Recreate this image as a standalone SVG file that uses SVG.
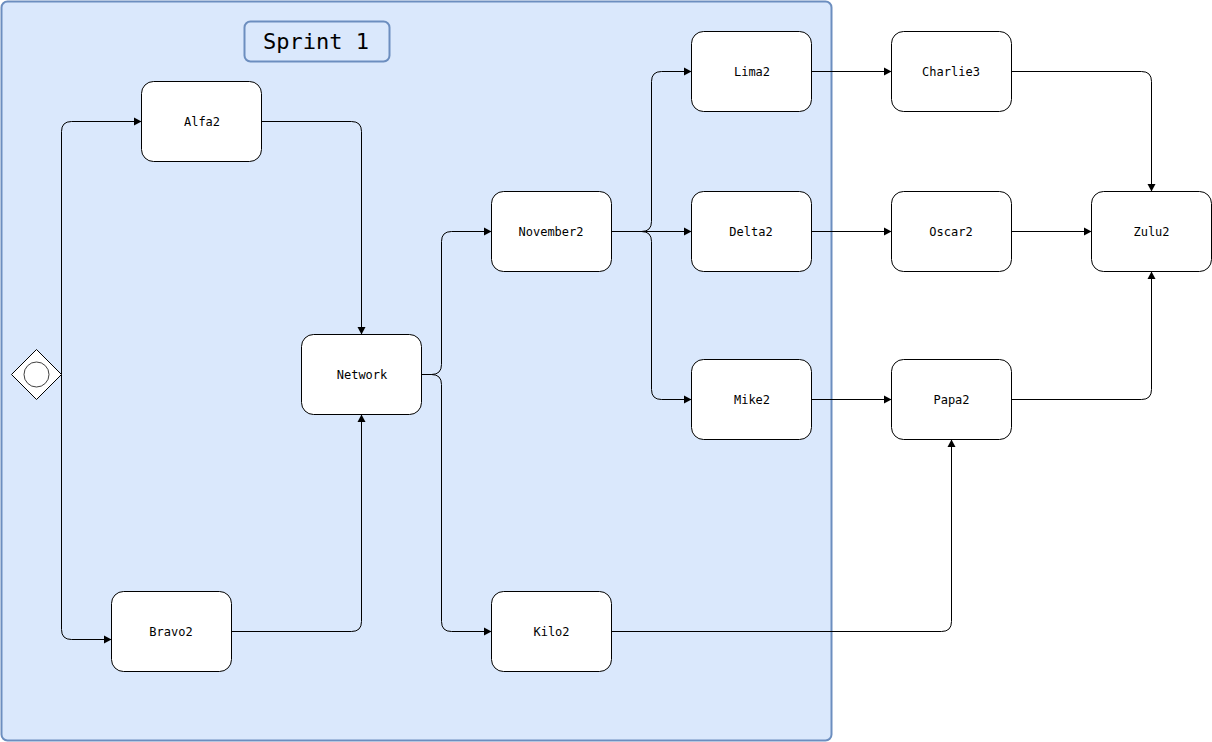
<svg xmlns="http://www.w3.org/2000/svg" width="1212" height="742" viewBox="0 0 1212 742">
<style>
text{font-family:"DejaVu Sans Mono","Liberation Mono",monospace;text-anchor:middle;fill:#000;opacity:.999}
.n rect{fill:#fff;stroke:#000;stroke-width:1}
.n text{font-size:12px}
#connectors path{fill:none;stroke:#000;stroke-width:1}
</style>
<defs>
<marker id="a" markerUnits="userSpaceOnUse" markerWidth="10" markerHeight="10" refX="8.500" refY="5" orient="auto"><path d="M1 1L8.500 5L1 9Z" fill="#000"/></marker>
</defs>
<g id="sprint">
<rect x="1.500" y="1.500" width="830" height="739" rx="6" fill="#dae8fc" stroke="#6c8ebf" stroke-width="2"/>
<rect x="244.500" y="21.500" width="145" height="40" rx="6" fill="#dae8fc" stroke="#6c8ebf" stroke-width="2"/>
<text x="316" y="49" style="font-size:22px">Sprint 1</text>
</g>
<g id="connectors">
<path marker-end="url(#a)" d="M61.500 374.500V131.500Q61.500 121.500 71.500 121.500H141.500"/>
<path marker-end="url(#a)" d="M61.500 374.500V629.500Q61.500 639.500 71.500 639.500H111.500"/>
<path marker-end="url(#a)" d="M261.500 121.500H351.500Q361.500 121.500 361.500 131.500V334.500"/>
<path marker-end="url(#a)" d="M231.500 631.500H351.500Q361.500 631.500 361.500 621.500V414.500"/>
<path marker-end="url(#a)" d="M421.500 374.500H431.500Q441.500 374.500 441.500 364.500V241.500Q441.500 231.500 451.500 231.500H491.500"/>
<path marker-end="url(#a)" d="M421.500 374.500H431.500Q441.500 374.500 441.500 384.500V621.500Q441.500 631.500 451.500 631.500H491.500"/>
<path marker-end="url(#a)" d="M611.500 231.500H641.500Q651.500 231.500 651.500 221.500V81.500Q651.500 71.500 661.500 71.500H691.500"/>
<path marker-end="url(#a)" d="M611.500 231.500H691.500"/>
<path marker-end="url(#a)" d="M611.500 231.500H641.500Q651.500 231.500 651.500 241.500V389.500Q651.500 399.500 661.500 399.500H691.500"/>
<path marker-end="url(#a)" d="M811.500 71.500H891.500"/>
<path marker-end="url(#a)" d="M811.500 231.500H891.500"/>
<path marker-end="url(#a)" d="M811.500 399.500H891.500"/>
<path marker-end="url(#a)" d="M611.500 631.500H941.500Q951.500 631.500 951.500 621.500V439.500"/>
<path marker-end="url(#a)" d="M1011.500 71.500H1141.500Q1151.500 71.500 1151.500 81.500V191.500"/>
<path marker-end="url(#a)" d="M1011.500 231.500H1091.500"/>
<path marker-end="url(#a)" d="M1011.500 399.500H1141.500Q1151.500 399.500 1151.500 389.500V271.500"/>
</g>
<g id="start">
<path d="M36.500 349.500L61.500 374.500L36.500 399.500L11.500 374.500Z" fill="#fff" stroke="#000"/>
<circle cx="36.500" cy="374.500" r="12.500" fill="#fff" stroke="#000" stroke-opacity=".75"/>
</g>
<g id="alfa2" class="n"><rect x="141.500" y="81.500" width="120" height="80" rx="12"/><text x="202" y="126">Alfa2</text></g>
<g id="bravo2" class="n"><rect x="111.500" y="591.500" width="120" height="80" rx="12"/><text x="171" y="636">Bravo2</text></g>
<g id="network" class="n"><rect x="301.500" y="334.500" width="120" height="80" rx="12"/><text x="362" y="379">Network</text></g>
<g id="november2" class="n"><rect x="491.500" y="191.500" width="120" height="80" rx="12"/><text x="551" y="236">November2</text></g>
<g id="kilo2" class="n"><rect x="491.500" y="591.500" width="120" height="80" rx="12"/><text x="551.500" y="636">Kilo2</text></g>
<g id="lima2" class="n"><rect x="691.500" y="31.500" width="120" height="80" rx="12"/><text x="752" y="76">Lima2</text></g>
<g id="delta2" class="n"><rect x="691.500" y="191.500" width="120" height="80" rx="12"/><text x="751" y="236">Delta2</text></g>
<g id="mike2" class="n"><rect x="691.500" y="359.500" width="120" height="80" rx="12"/><text x="752" y="404">Mike2</text></g>
<g id="charlie3" class="n"><rect x="891.500" y="31.500" width="120" height="80" rx="12"/><text x="951" y="76">Charlie3</text></g>
<g id="oscar2" class="n"><rect x="891.500" y="191.500" width="120" height="80" rx="12"/><text x="951" y="236">Oscar2</text></g>
<g id="papa2" class="n"><rect x="891.500" y="359.500" width="120" height="80" rx="12"/><text x="951.500" y="404">Papa2</text></g>
<g id="zulu2" class="n"><rect x="1091.500" y="191.500" width="120" height="80" rx="12"/><text x="1151.500" y="236">Zulu2</text></g>
</svg>
